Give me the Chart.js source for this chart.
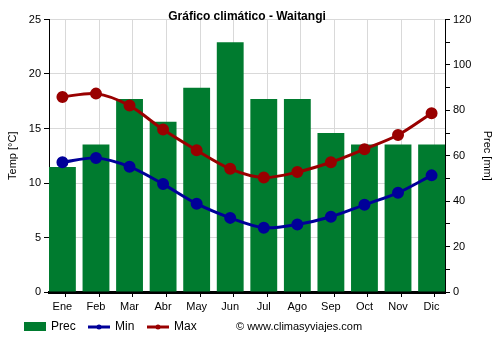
<!DOCTYPE html>
<html>
<head>
<meta charset="utf-8">
<script src="https://cdn.jsdelivr.net/npm/chart.js@4"></script>
<style>
  body { margin: 0; background: #fff; }
  canvas { display: block; }
</style>
</head>
<body>
<canvas id="chart" width="500" height="350"></canvas>
<script>
const months = ['Ene', 'Feb', 'Mar', 'Abr', 'May', 'Jun', 'Jul', 'Ago', 'Sep', 'Oct', 'Nov', 'Dic'];
const prec = [55, 65, 85, 75, 90, 110, 85, 85, 70, 65, 65, 65];
const tMin = [11.9, 12.3, 11.5, 9.9, 8.1, 6.8, 5.9, 6.2, 6.9, 8.0, 9.1, 10.7];
const tMax = [17.9, 18.2, 17.1, 14.9, 13.0, 11.3, 10.5, 11.0, 11.9, 13.1, 14.4, 16.4];

const FONT = "'Liberation Sans', Arial, sans-serif";
const GREEN = '#007b2f';
const BLUE = '#000099';
const RED = '#990000';

const toPoints = arr => arr.map((v, i) => ({ x: i, y: v }));

// title, legend and credit line drawn straight onto the canvas
const extras = {
  id: 'extras',
  afterDraw(chart) {
    const ctx = chart.ctx;
    const area = chart.chartArea;
    ctx.save();
    ctx.fillStyle = '#000';
    ctx.textBaseline = 'middle';
    ctx.textAlign = 'center';
    ctx.font = 'bold 12px ' + FONT;
    ctx.fillText('Gráfico climático - Waitangi', (area.left + area.right) / 2, 17);

    ctx.textAlign = 'left';
    ctx.font = '12px ' + FONT;
    const y = 327;
    ctx.fillStyle = GREEN;
    ctx.fillRect(24, 322, 22, 9);
    ctx.fillStyle = '#000';
    ctx.fillText('Prec', 51, y);

    [[88, BLUE, 'Min'], [147, RED, 'Max']].forEach(([x, c, label]) => {
      ctx.strokeStyle = c;
      ctx.fillStyle = c;
      ctx.lineWidth = 3;
      ctx.beginPath();
      ctx.moveTo(x, y);
      ctx.lineTo(x + 22, y);
      ctx.stroke();
      ctx.beginPath();
      ctx.arc(x + 11, y, 2.5, 0, Math.PI * 2);
      ctx.fill();
      ctx.fillStyle = '#000';
      ctx.fillText(label, x + 27, y);
    });

    ctx.font = '11px ' + FONT;
    ctx.fillText('© www.climasyviajes.com', 236, y);
    ctx.restore();
  }
};

new Chart(document.getElementById('chart'), {
  type: 'bar',
  data: {
    datasets: [
      {
        type: 'line',
        label: 'Max',
        data: toPoints(tMax),
        yAxisID: 'y',
        borderColor: RED,
        backgroundColor: RED,
        borderWidth: 3,
        pointRadius: 4.5,
        tension: 0.3,
        order: 0
      },
      {
        type: 'line',
        label: 'Min',
        data: toPoints(tMin),
        yAxisID: 'y',
        borderColor: BLUE,
        backgroundColor: BLUE,
        borderWidth: 3,
        pointRadius: 4.5,
        tension: 0.3,
        order: 1
      },
      {
        label: 'Prec',
        data: toPoints(prec),
        yAxisID: 'y1',
        backgroundColor: GREEN,
        categoryPercentage: 1,
        barPercentage: 0.8,
        order: 2
      }
    ]
  },
  options: {
    responsive: false,
    animation: false,
    devicePixelRatio: 1,
    layout: { padding: { top: 19.5, bottom: 34, left: 0, right: 0 } },
    plugins: {
      legend: { display: false },
      title: { display: false },
      tooltip: { enabled: false }
    },
    scales: {
      x: {
        type: 'linear',
        min: -0.4,
        max: 11.4,
        offset: false,
        afterBuildTicks(scale) {
          scale.ticks = months.map((m, i) => ({ value: i - 0.4 }));
        },
        afterFit(scale) { scale.height = 24; },
        border: { color: '#000', width: 3 },
        grid: { color: '#d9d9d9', tickColor: '#000', tickLength: 5 },
        ticks: {
          autoSkip: false,
          maxRotation: 0,
          labelOffset: 13.4,
          color: '#000',
          font: { family: FONT, size: 11 },
          callback: (v, i) => months[i]
        }
      },
      y: {
        position: 'left',
        min: 0,
        max: 25,
        afterFit(scale) { scale.width = 49; },
        border: { color: '#000', width: 1 },
        grid: { color: '#d9d9d9', tickColor: '#000', tickLength: 5 },
        ticks: { stepSize: 5, color: '#000', padding: 3, font: { family: FONT, size: 11 } },
        title: {
          display: true,
          text: 'Temp [°C]',
          color: '#000',
          padding: { top: 6, bottom: 4 },
          font: { family: FONT, size: 11 }
        }
      },
      y1: {
        position: 'right',
        min: 0,
        max: 120,
        afterFit(scale) { scale.width = 55; },
        border: { color: '#000', width: 1 },
        grid: { drawOnChartArea: false, tickColor: '#000', tickLength: 5 },
        ticks: {
          stepSize: 5,
          color: '#000',
          padding: 3,
          font: { family: FONT, size: 11 },
          callback: v => (v % 20 === 0 ? v : '')
        },
        title: {
          display: true,
          text: 'Prec [mm]',
          color: '#000',
          padding: { top: 6, bottom: 4 },
          font: { family: FONT, size: 11 }
        }
      }
    }
  },
  plugins: [extras]
});
</script>
</body>
</html>
